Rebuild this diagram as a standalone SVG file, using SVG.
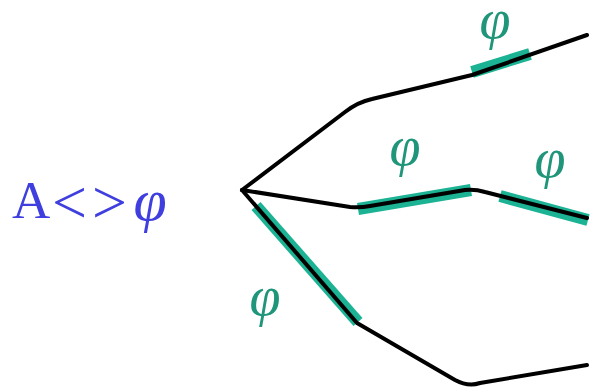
<svg xmlns="http://www.w3.org/2000/svg" width="595" height="389" viewBox="0 0 595 389">
<style>
.hl{fill:none;stroke:#1bb394;stroke-width:12;stroke-linecap:butt}
.ln{fill:none;stroke:#000;stroke-width:4;stroke-linejoin:round;stroke-linecap:round}
.phi{font-family:"Liberation Serif",serif;font-style:italic;font-size:56px;fill:#1f957a}
.lbl{font-family:"Liberation Serif","Times New Roman",serif;font-size:53px;fill:#3f3fe0}
</style>
<rect width="595" height="389" fill="#fff"/>
<g id="label-left">
<text class="lbl" y="218"><tspan x="12">A</tspan><tspan x="52" y="223" font-size="62">&lt;</tspan><tspan x="92" font-size="62">&gt;</tspan><tspan x="150" y="220" text-anchor="middle" font-style="italic" font-size="60">φ</tspan></text>
</g>
<g id="highlights">
<path class="hl" d="M472,72 L530,54"/>
<path class="hl" d="M358,209 L471,190"/>
<path class="hl" d="M500,196 L588,220"/>
<path class="hl" d="M256,206 L358,322"/>
</g>
<g id="connectors">
<path class="ln" d="M242,190 L345,112 Q358,102 372,99 L472,75 L587,35"/>
<path class="ln" d="M242,190 L350,207 Q360,208 370,206 L465,190 Q475,189 485,192 L587,218"/>
<path class="ln" d="M242,190 L357,323 L455,380 Q468,387 480,383 L587,365"/>
</g>
<g id="phi-labels">
<text class="phi" x="495" y="38" text-anchor="middle">φ</text>
<text class="phi" x="405" y="165" text-anchor="middle">φ</text>
<text class="phi" x="550" y="177" text-anchor="middle">φ</text>
<text class="phi" x="265" y="315" text-anchor="middle">φ</text>
</g>
</svg>
